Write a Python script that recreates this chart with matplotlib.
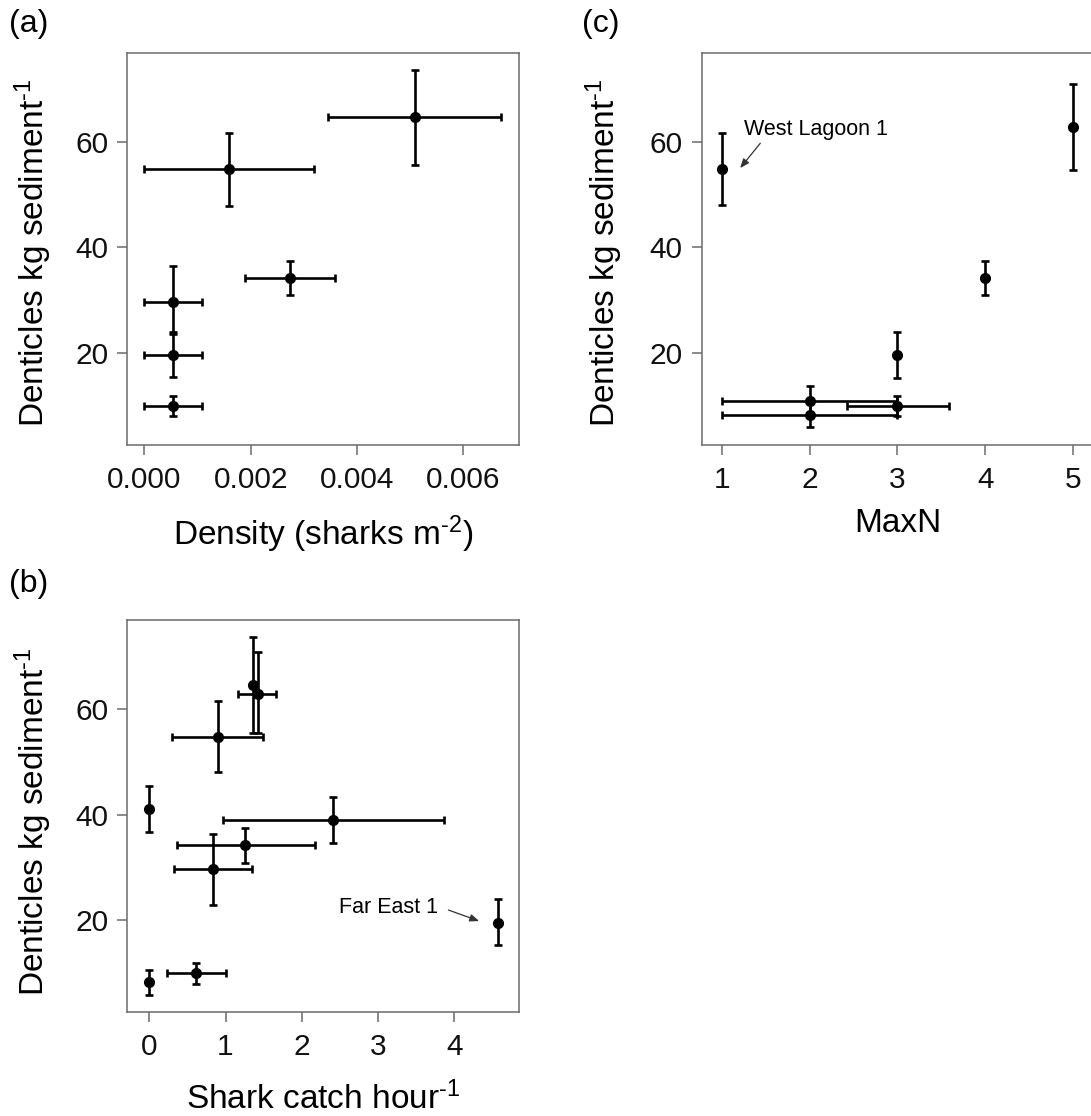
import numpy as np
import matplotlib
matplotlib.use("Agg")
import matplotlib.pyplot as plt

plt.rcParams['font.family'] = ['Liberation Sans', 'DejaVu Sans']
plt.rcParams['mathtext.fontset'] = 'custom'
plt.rcParams['mathtext.rm'] = 'Liberation Sans'
plt.rcParams['mathtext.default'] = 'regular'

# (a) density vs denticles
a_x = [0.00510, 0.00160, 0.00274, 0.00054, 0.00054, 0.00054]
a_xlo = [0.00346, 0.00000, 0.00189, 0.00000, 0.00000, 0.00000]
a_xhi = [0.00672, 0.00319, 0.00358, 0.00108, 0.00108, 0.00108]
a_y = [64.6, 54.8, 34.2, 29.6, 19.6, 9.95]
a_ylo = [55.6, 47.9, 30.9, 23.9, 15.4, 8.0]
a_yhi = [73.65, 61.6, 37.4, 36.4, 23.5, 11.8]

# (b) shark catch per hour vs denticles
b_x = [1.355, 1.42, 0.904, 0.0, 2.41, 1.261, 0.833, 4.58, 0.612, 0.0]
b_xlo = [np.nan, 1.167, 0.292, np.nan, 0.965, 0.362, 0.329, np.nan, 0.226, np.nan]
b_xhi = [np.nan, 1.661, 1.496, np.nan, 3.86, 2.174, 1.341, np.nan, 1.0, np.nan]
b_y = [64.6, 62.8, 54.7, 41.1, 38.95, 34.2, 29.65, 19.5, 9.9, 8.2]
b_ylo = [55.4, 55.4, 48.0, 36.7, 34.6, 30.8, 22.8, 15.3, 7.9, 5.7]
b_yhi = [73.7, 70.9, 61.5, 45.4, 43.3, 37.5, 36.4, 23.9, 11.8, 10.55]

# (c) MaxN vs denticles
c_x = [1, 5, 4, 3, 2, 2, 3]
c_xlo = [np.nan, np.nan, np.nan, np.nan, 1.0, 1.0, 2.426]
c_xhi = [np.nan, np.nan, np.nan, np.nan, 3.0, 3.0, 3.589]
c_y = [54.8, 62.8, 34.2, 19.6, 10.8, 8.25, 9.95]
c_ylo = [48.0, 54.7, 30.9, 15.3, 7.8, 5.9, 8.0]
c_yhi = [61.6, 71.0, 37.4, 24.0, 13.8, 10.6, 11.8]

ylab = r'Denticles kg sediment$^{\text{-}1}$'
spine_col = '#6b6b6b'

W, H = 1091, 1116
fig = plt.figure(figsize=(W / 100, H / 100), dpi=100)

def px_axes(left, top, w, h):
    return fig.add_axes([left / W, 1 - (top + h) / H, w / W, h / H])

def draw(ax, x, xlo, xhi, y, ylo, yhi):
    x = np.array(x, dtype=float)
    y = np.array(y, dtype=float)
    xerr = np.vstack([x - np.array(xlo), np.array(xhi) - x])
    yerr = np.vstack([y - np.array(ylo), np.array(yhi) - y])
    ax.errorbar(x, y, xerr=xerr, fmt='none', ecolor='black',
                elinewidth=1.9, capsize=2.6, capthick=1.9, zorder=2)
    ax.errorbar(x, y, yerr=yerr, fmt='o', color='black', ms=7,
                elinewidth=1.9, capsize=2.6, capthick=1.9, zorder=3)

def style(ax):
    for s in ax.spines.values():
        s.set_color(spine_col)
        s.set_linewidth(1.1)
    ax.tick_params(direction='out', length=7.2, width=1.1, color=spine_col,
                   labelsize=21.5, labelcolor='#111111', pad=6.5)
    ax.tick_params(axis='x', pad=8)

ax_a = px_axes(127.5, 53, 391.5, 391.7)
draw(ax_a, a_x, a_xlo, a_xhi, a_y, a_ylo, a_yhi)
ax_a.set_xlim(-0.00032, 0.00705)
ax_a.set_ylim(2.6, 76.8)
ax_a.set_xticks([0.000, 0.002, 0.004, 0.006])
ax_a.set_xticklabels(['0.000', '0.002', '0.004', '0.006'])
ax_a.set_yticks([20, 40, 60])
ax_a.set_xlabel(r'Density (sharks m$^{\text{-}2}$)', fontsize=24)
ax_a.set_ylabel(ylab, fontsize=24)
ax_a.xaxis.set_label_coords(0.5, -0.175)
ax_a.yaxis.set_label_coords(-0.189, 0.49)
style(ax_a)

ax_b = px_axes(127.5, 620, 391.5, 392)
draw(ax_b, b_x, b_xlo, b_xhi, b_y, b_ylo, b_yhi)
ax_b.set_xlim(-0.286, 4.85)
ax_b.set_ylim(2.56, 76.9)
ax_b.set_xticks([0, 1, 2, 3, 4])
ax_b.set_yticks([20, 40, 60])
ax_b.set_xlabel(r'Shark catch hour$^{\text{-}1}$', fontsize=24)
ax_b.set_ylabel(ylab, fontsize=24)
ax_b.xaxis.set_label_coords(0.5, -0.178)
ax_b.yaxis.set_label_coords(-0.189, 0.485)
style(ax_b)
ax_b.text(3.79, 21.27, 'Far East 1', fontsize=15.5, ha='right', va='baseline')
ax_b.annotate('', xy=(4.327, 19.8), xytext=(3.924, 21.9),
              arrowprops=dict(arrowstyle='-|>,head_length=0.55,head_width=0.22',
                              color='#333333', lw=0.9, shrinkA=0, shrinkB=0))

ax_c = px_axes(701.7, 53, 391.5, 391.7)
draw(ax_c, c_x, c_xlo, c_xhi, c_y, c_ylo, c_yhi)
ax_c.set_xlim(0.771, 5.229)
ax_c.set_ylim(2.6, 76.8)
ax_c.set_xticks([1, 2, 3, 4, 5])
ax_c.set_yticks([20, 40, 60])
ax_c.set_xlabel('MaxN', fontsize=24)
ax_c.set_ylabel(ylab, fontsize=24)
ax_c.xaxis.set_label_coords(0.5, -0.162)
ax_c.yaxis.set_label_coords(-0.196, 0.49)
style(ax_c)
ax_c.text(1.255, 61.2, 'West Lagoon 1', fontsize=15.5, ha='left', va='baseline')
ax_c.annotate('', xy=(1.209, 55.0), xytext=(1.438, 59.7),
              arrowprops=dict(arrowstyle='-|>,head_length=0.55,head_width=0.22',
                              color='#333333', lw=0.9, shrinkA=0, shrinkB=0))

fig.text(9 / W, 1 - 24 / H, '(a)', fontsize=23, ha='left', va='center')
fig.text(9 / W, 1 - 584 / H, '(b)', fontsize=23, ha='left', va='center')
fig.text(582 / W, 1 - 24 / H, '(c)', fontsize=23, ha='left', va='center')

fig.savefig('out.png', dpi=100, facecolor='white')
